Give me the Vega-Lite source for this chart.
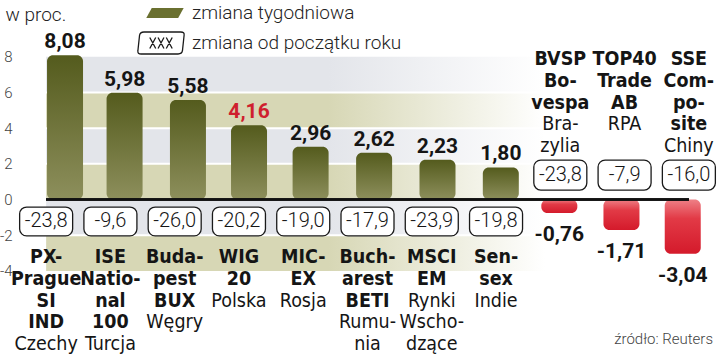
{
  "$schema": "https://vega.github.io/schema/vega-lite/v6.json",
  "width": 720,
  "height": 330,
  "autosize": "none",
  "padding": {"left": 0, "top": 0, "right": 0, "bottom": 24},
  "background": "white",
  "config": {
    "view": {"stroke": null},
    "font": "Roboto",
    "locale": {"number": {"decimal": ",", "thousands": " ", "grouping": [3], "currency": ["", " zł"], "minus": "-"}}
  },
  "title": {"text": "źródło: Reuters", "orient": "bottom", "anchor": "end", "frame": "group", "font": "Roboto", "fontSize": 15, "fontWeight": 300, "color": "#444444", "offset": 0, "dx": -7, "dy": -22},
  "datasets": {
    "indices": [
      {"id": "PX", "bold": ["PX-", "Prague", "SI", "IND"], "country": ["Czechy"], "weekly": 8.08, "ytd": -23.8},
      {"id": "ISE", "bold": ["ISE", "Natio-", "nal", "100"], "country": ["Turcja"], "weekly": 5.98, "ytd": -9.6},
      {"id": "BUX", "bold": ["Buda-", "pest", "BUX"], "country": ["Węgry"], "weekly": 5.58, "ytd": -26.0},
      {"id": "WIG20", "bold": ["WIG", "20"], "country": ["Polska"], "weekly": 4.16, "ytd": -20.2},
      {"id": "MICEX", "bold": ["MIC-", "EX"], "country": ["Rosja"], "weekly": 2.96, "ytd": -19.0},
      {"id": "BETI", "bold": ["Buch-", "arest", "BETI"], "country": ["Rumu-", "nia"], "weekly": 2.62, "ytd": -17.9},
      {"id": "MSCI", "bold": ["MSCI", "EM"], "country": ["Rynki", "Wscho-", "dzące"], "weekly": 2.23, "ytd": -23.9},
      {"id": "SENSEX", "bold": ["Sen-", "sex"], "country": ["Indie"], "weekly": 1.80, "ytd": -19.8},
      {"id": "BVSP", "bold": ["BVSP", "Bo-", "vespa"], "country": ["Bra-", "zylia"], "weekly": -0.76, "ytd": -23.8},
      {"id": "TOP40", "bold": ["TOP40", "Trade", "AB"], "country": ["RPA"], "weekly": -1.71, "ytd": -7.9},
      {"id": "SSE", "bold": ["SSE", "Com-", "po-", "site"], "country": ["Chiny"], "weekly": -3.04, "ytd": -16.0}
    ],
    "bands": [
      {"lo": 6, "hi": 8, "kind": "g"},
      {"lo": 4, "hi": 6, "kind": "o"},
      {"lo": 2, "hi": 4, "kind": "g"},
      {"lo": 0, "hi": 2, "kind": "o"},
      {"lo": -2, "hi": 0, "kind": "g"},
      {"lo": -4, "hi": -2, "kind": "o"}
    ],
    "legend": [
      {"leg": "zmiana tygodniowa"},
      {"leg": "zmiana od początku roku"}
    ]
  },
  "data": {"name": "indices"},
  "encoding": {
    "x": {"field": "id", "type": "nominal", "axis": null, "sort": null,
      "scale": {"type": "band", "domain": ["PX", "ISE", "BUX", "WIG20", "MICEX", "BETI", "MSCI", "SENSEX", "BVSP", "TOP40", "SSE"], "range": [14, 721], "paddingInner": 0, "paddingOuter": 0}}
  },
  "layer": [
    {
      "data": {"name": "bands"},
      "transform": [{"filter": "datum.kind == 'g'"}],
      "mark": {"type": "rect", "fill": {"gradient": "linear", "x1": 0, "y1": 0, "x2": 1, "y2": 0, "stops": [{"offset": 0, "color": "#e3e5ea"}, {"offset": 0.55, "color": "#e3e5ea"}, {"offset": 0.97, "color": "#ffffff"}]}},
      "encoding": {
        "x": {"datum": "PX"},
        "x2": {"datum": "BVSP"},
        "y": {"field": "hi", "type": "quantitative", "title": "w proc.",
          "scale": {"domain": [-7.31, 11.18], "nice": false, "zero": false},
          "axis": {"values": [-4, -2, 0, 2, 4, 6, 8], "title": "w proc.", "titleAngle": 0, "titleAlign": "left", "titleBaseline": "alphabetic", "titleX": -15, "titleY": 20, "titleFont": "Roboto", "titleFontSize": 19, "titleFontWeight": 300, "titleColor": "#222222", "offset": -20, "domain": false, "ticks": false, "grid": false, "labelPadding": 8, "labelFont": "Roboto", "labelFontSize": 15, "labelFontWeight": 300, "labelColor": "#444444", "labelOverlap": false, "labelFlush": false}},
        "y2": {"field": "lo"}
      }
    },
    {
      "data": {"name": "bands"},
      "transform": [{"filter": "datum.kind == 'o'"}],
      "mark": {"type": "rect", "fill": {"gradient": "linear", "x1": 0, "y1": 0, "x2": 1, "y2": 0, "stops": [{"offset": 0, "color": "#d7d7b5"}, {"offset": 0.55, "color": "#d7d7b5"}, {"offset": 0.97, "color": "#ffffff"}]}},
      "encoding": {
        "x": {"datum": "PX"},
        "x2": {"datum": "BVSP"},
        "y": {"field": "hi", "type": "quantitative", "title": "w proc."},
        "y2": {"field": "lo"}
      }
    },
    {
      "data": {"name": "bands"},
      "transform": [{"filter": "datum.lo > -4"}],
      "mark": {"type": "rule", "stroke": "#ffffff", "strokeWidth": 2},
      "encoding": {
        "x": {"datum": "PX"},
        "x2": {"datum": "BVSP"},
        "y": {"field": "lo", "type": "quantitative", "title": "w proc."}
      }
    },
    {
      "transform": [{"filter": "datum.weekly >= 0"}],
      "mark": {"type": "bar", "width": 36, "cornerRadiusEnd": 6, "fill": {"gradient": "linear", "x1": 0, "y1": 0, "x2": 0, "y2": 1, "stops": [{"offset": 0, "color": "#545b1d"}, {"offset": 1, "color": "#8d8f5c"}]}},
      "encoding": {
        "xOffset": {"field": "weekly", "type": "quantitative", "scale": {"domain": [-4, 8], "range": [23.85, 50.85]}},
        "y": {"field": "weekly", "type": "quantitative", "title": "w proc."},
        "y2": {"datum": 0}
      }
    },
    {
      "transform": [{"filter": "datum.weekly < 0"}],
      "mark": {"type": "bar", "width": 36, "cornerRadiusEnd": 6, "fill": {"gradient": "linear", "x1": 0, "y1": 0, "x2": 0, "y2": 1, "stops": [{"offset": 0, "color": "#ee8086"}, {"offset": 0.35, "color": "#e23a46"}, {"offset": 1, "color": "#d41a2b"}]}},
      "encoding": {
        "xOffset": {"field": "weekly", "type": "quantitative"},
        "y": {"field": "weekly", "type": "quantitative", "title": "w proc."},
        "y2": {"datum": 0}
      }
    },
    {
      "mark": {"type": "rule", "stroke": "#111111", "strokeWidth": 1.5},
      "encoding": {
        "x": {"datum": "PX"},
        "x2": {"datum": "SSE"},
        "y": {"datum": 0, "title": "w proc."}
      }
    },
    {
      "transform": [{"filter": "datum.weekly >= 0"}],
      "mark": {"type": "text", "font": "Roboto", "fontSize": 21, "fontWeight": "bold", "baseline": "alphabetic", "align": "center", "dy": -7},
      "encoding": {
        "xOffset": {"field": "weekly", "type": "quantitative"},
        "y": {"field": "weekly", "type": "quantitative", "title": "w proc."},
        "text": {"field": "weekly", "type": "quantitative", "format": ".2f"},
        "color": {"condition": {"test": "datum.id === 'WIG20'", "value": "#cf1f2e"}, "value": "#151515"}
      }
    },
    {
      "transform": [{"filter": "datum.weekly < 0"}],
      "mark": {"type": "text", "font": "Roboto", "fontSize": 21, "fontWeight": "bold", "baseline": "alphabetic", "align": "center", "dy": 28, "color": "#151515"},
      "encoding": {
        "xOffset": {"field": "weekly", "type": "quantitative"},
        "y": {"field": "weekly", "type": "quantitative", "title": "w proc."},
        "text": {"field": "weekly", "type": "quantitative", "format": ".2f"}
      }
    },
    {
      "transform": [{"filter": "datum.weekly >= 0"}],
      "mark": {"type": "bar", "width": 53, "cornerRadius": 7, "fill": "#ffffff", "stroke": "#1a1a1a", "strokeWidth": 1.3},
      "encoding": {
        "y": {"datum": -0.42, "title": "w proc."},
        "y2": {"datum": -2.04}
      }
    },
    {
      "transform": [{"filter": "datum.weekly < 0"}],
      "mark": {"type": "bar", "width": 53, "cornerRadius": 7, "fill": "#ffffff", "stroke": "#1a1a1a", "strokeWidth": 1.3},
      "encoding": {
        "y": {"datum": 2.21, "title": "w proc."},
        "y2": {"datum": 0.53}
      }
    },
    {
      "transform": [{"filter": "datum.weekly >= 0"}],
      "mark": {"type": "text", "font": "Roboto", "fontSize": 20, "fontWeight": 300, "baseline": "middle", "align": "center", "color": "#151515"},
      "encoding": {
        "y": {"datum": -1.23, "title": "w proc."},
        "text": {"field": "ytd", "type": "quantitative", "format": ".1f"}
      }
    },
    {
      "transform": [{"filter": "datum.weekly < 0"}],
      "mark": {"type": "text", "font": "Roboto", "fontSize": 20, "fontWeight": 300, "baseline": "middle", "align": "center", "color": "#151515"},
      "encoding": {
        "y": {"datum": 1.37, "title": "w proc."},
        "text": {"field": "ytd", "type": "quantitative", "format": ".1f"}
      }
    },
    {
      "transform": [{"filter": "datum.weekly >= 0"}],
      "mark": {"type": "text", "font": "Liberation Sans Narrow, DejaVu Sans Condensed, Roboto", "fontSize": 19.5, "fontWeight": "bold", "baseline": "alphabetic", "align": "center", "lineHeight": 21.7, "color": "#151515"},
      "encoding": {
        "y": {"datum": -3.57, "title": "w proc."},
        "text": {"field": "bold", "type": "nominal"}
      }
    },
    {
      "transform": [{"filter": "datum.weekly >= 0 && length(datum.bold) == 2"}],
      "mark": {"type": "text", "font": "Liberation Sans Narrow, DejaVu Sans Condensed, Roboto", "fontSize": 19.5, "fontWeight": "normal", "baseline": "alphabetic", "align": "center", "lineHeight": 21.7, "color": "#151515"},
      "encoding": {
        "y": {"datum": -6.0, "title": "w proc."},
        "text": {"field": "country", "type": "nominal"}
      }
    },
    {
      "transform": [{"filter": "datum.weekly >= 0 && length(datum.bold) == 3"}],
      "mark": {"type": "text", "font": "Liberation Sans Narrow, DejaVu Sans Condensed, Roboto", "fontSize": 19.5, "fontWeight": "normal", "baseline": "alphabetic", "align": "center", "lineHeight": 21.7, "color": "#151515"},
      "encoding": {
        "y": {"datum": -7.22, "title": "w proc."},
        "text": {"field": "country", "type": "nominal"}
      }
    },
    {
      "transform": [{"filter": "datum.weekly >= 0 && length(datum.bold) == 4"}],
      "mark": {"type": "text", "font": "Liberation Sans Narrow, DejaVu Sans Condensed, Roboto", "fontSize": 19.5, "fontWeight": "normal", "baseline": "alphabetic", "align": "center", "lineHeight": 21.7, "color": "#151515"},
      "encoding": {
        "y": {"datum": -8.43, "title": "w proc."},
        "text": {"field": "country", "type": "nominal"}
      }
    },
    {
      "transform": [{"filter": "datum.weekly < 0"}],
      "mark": {"type": "text", "font": "Liberation Sans Narrow, DejaVu Sans Condensed, Roboto", "fontSize": 19.5, "fontWeight": "bold", "baseline": "alphabetic", "align": "center", "lineHeight": 21.7, "color": "#151515"},
      "encoding": {
        "y": {"datum": 7.53, "title": "w proc."},
        "text": {"field": "bold", "type": "nominal"}
      }
    },
    {
      "transform": [{"filter": "datum.weekly < 0 && length(datum.bold) == 3"}],
      "mark": {"type": "text", "font": "Liberation Sans Narrow, DejaVu Sans Condensed, Roboto", "fontSize": 19.5, "fontWeight": "normal", "baseline": "alphabetic", "align": "center", "lineHeight": 21.7, "color": "#151515"},
      "encoding": {
        "y": {"datum": 3.88, "title": "w proc."},
        "text": {"field": "country", "type": "nominal"}
      }
    },
    {
      "transform": [{"filter": "datum.weekly < 0 && length(datum.bold) == 4"}],
      "mark": {"type": "text", "font": "Liberation Sans Narrow, DejaVu Sans Condensed, Roboto", "fontSize": 19.5, "fontWeight": "normal", "baseline": "alphabetic", "align": "center", "lineHeight": 21.7, "color": "#151515"},
      "encoding": {
        "y": {"datum": 2.67, "title": "w proc."},
        "text": {"field": "country", "type": "nominal"}
      }
    },
    {
      "data": {"name": "legend"},
      "mark": {"type": "point", "filled": true, "opacity": 0},
      "encoding": {
        "x": {"datum": "PX"},
        "y": {"datum": 0, "title": "w proc."},
        "shape": {"field": "leg", "type": "nominal",
          "scale": {"domain": ["zmiana tygodniowa", "zmiana od początku roku"], "range": ["M-0.84,-0.45 L2.06,-0.45 L1.56,0.45 L-1.34,0.45 Z", "M-1.55,-1 L1.8,-1 Q2.15,-1 2.1,-0.7 L1.95,0.7 Q1.9,1 1.55,1 L-1.8,1 Q-2.15,1 -2.1,0.7 L-1.95,-0.7 Q-1.9,-1 -1.55,-1 Z M-1.02,-0.5 L-0.48,0.5 M-0.48,-0.5 L-1.02,0.5 M-0.27,-0.5 L0.27,0.5 M0.27,-0.5 L-0.27,0.5 M0.48,-0.5 L1.02,0.5 M1.02,-0.5 L0.48,0.5"]},
          "legend": {"title": null, "orient": "none", "legendX": 149, "legendY": 1, "padding": 0, "symbolSize": 484, "symbolStrokeWidth": 1.3, "symbolOpacity": 1, "labelFont": "Roboto", "labelFontSize": 19, "labelFontWeight": 300, "labelColor": "#222222", "labelOffset": 19, "rowPadding": 6, "labelLimit": 400}},
        "fill": {"field": "leg", "type": "nominal",
          "scale": {"domain": ["zmiana tygodniowa", "zmiana od początku roku"], "range": ["#6a7030", "#ffffff"]}},
        "stroke": {"field": "leg", "type": "nominal",
          "scale": {"domain": ["zmiana tygodniowa", "zmiana od początku roku"], "range": ["transparent", "#1a1a1a"]}}
      }
    }
  ]
}
